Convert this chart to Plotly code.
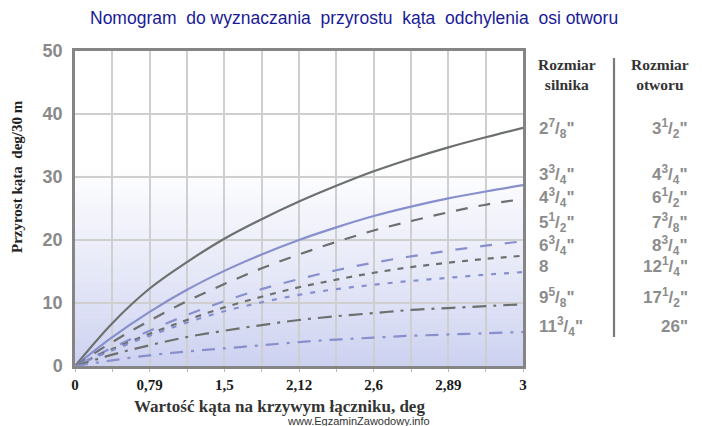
import plotly.graph_objects as go

# ---------------- data ----------------
X_POS = [0, 1, 2, 3, 4, 5, 6, 7, 8, 9, 10, 11, 12]          # grid positions along x axis
TICK_VALS = [0, 2, 4, 6, 8, 10, 12]
TICK_TEXT = ["0", "0,79", "1,5", "2,12", "2,6", "2,89", "3"]
Y_TICKS = [0, 10, 20, 30, 40, 50]

c_2_7_8 = [0, 6.8, 12.3, 16.5, 20.2, 23.3, 26.1, 28.6, 30.9, 32.9, 34.7, 36.3, 37.8]
c_3_3_4 = [0, 4.6, 8.6, 12.1, 15.1, 17.7, 20.0, 22.0, 23.8, 25.3, 26.6, 27.7, 28.7]
c_4_3_4 = [0, 3.8, 7.2, 10.3, 13.0, 15.5, 17.7, 19.7, 21.5, 23.0, 24.4, 25.6, 26.5]
c_5_1_2 = [0, 2.9, 5.6, 8.1, 10.3, 12.2, 13.8, 15.2, 16.4, 17.4, 18.3, 19.1, 19.8]
c_6_3_4 = [0, 2.7, 5.1, 7.3, 9.3, 11.0, 12.5, 13.7, 14.8, 15.7, 16.4, 17.0, 17.5]
c_8 = [0, 2.5, 4.8, 6.9, 8.7, 10.1, 11.3, 12.2, 12.9, 13.5, 14.0, 14.5, 14.9]
c_9_5_8 = [0, 1.8, 3.3, 4.6, 5.6, 6.5, 7.3, 7.9, 8.4, 8.9, 9.2, 9.5, 9.8]
c_11_3_4 = [0, 0.9, 1.7, 2.3, 2.8, 3.3, 3.8, 4.2, 4.5, 4.8, 5.0, 5.2, 5.4]

LABELS_SILNIK = ['2<sup>7</sup>/<sub>8</sub>"', '3<sup>3</sup>/<sub>4</sub>"', '4<sup>3</sup>/<sub>4</sub>"',
                 '5<sup>1</sup>/<sub>2</sub>"', '6<sup>3</sup>/<sub>4</sub>"', '8',
                 '9<sup>5</sup>/<sub>8</sub>"', '11<sup>3</sup>/<sub>4</sub>"']
LABELS_OTWOR = ['3<sup>1</sup>/<sub>2</sub>"', '4<sup>3</sup>/<sub>4</sub>"', '6<sup>1</sup>/<sub>2</sub>"',
                '7<sup>3</sup>/<sub>8</sub>"', '8<sup>3</sup>/<sub>4</sub>"', '12<sup>1</sup>/<sub>4</sub>"',
                '17<sup>1</sup>/<sub>2</sub>"', '26"']

# ---------------- layout helpers ----------------
W, H = 702, 426
L, R, T, B = 75, 523, 51, 366          # plot area in pixels


def px(xp):
    return (xp - L) / (R - L)


def py(yp):
    return (B - yp) / (B - T)


GRAY = "#6c706e"
BLUE = "#8790cc"

series = [
    (c_2_7_8, GRAY, "solid", 2.2),
    (c_3_3_4, BLUE, "solid", 2.2),
    (c_4_3_4, GRAY, "12px,11px", 2.2),
    (c_5_1_2, BLUE, "12px,13px", 2.2),
    (c_6_3_4, GRAY, "6px,7px", 2.2),
    (c_8, BLUE, "5px,8px", 2.2),
    (c_9_5_8, GRAY, "14px,7px,3px,7px", 2.2),
    (c_11_3_4, BLUE, "13px,8px,3px,8px", 2.2),
]

fig = go.Figure()
for vals, col, dash, w in series:
    fig.add_trace(go.Scatter(x=X_POS, y=vals, mode="lines",
                             line=dict(color=col, dash=dash, width=w, shape="spline", smoothing=1.0),
                             hoverinfo="skip", showlegend=False))

# gradient background (white top -> lavender bottom)
shapes = []
N = 60
bot = (204, 209, 240)
for i in range(N):
    f0 = i / N
    f1 = (i + 1) / N
    t = (f0 + f1) / 2
    k = min(1.0, t / 0.64)
    k = k ** 0.9
    c = tuple(int(round(bot[j] + (255 - bot[j]) * k)) for j in range(3))
    shapes.append(dict(type="rect", xref="x domain", yref="y domain", x0=0, x1=1, y0=f0, y1=f1 + 0.002,
                       fillcolor="rgb(%d,%d,%d)" % c, line=dict(width=0), layer="below"))

# separator line on the right
shapes.append(dict(type="line", xref="paper", yref="paper", x0=px(614), x1=px(614), y0=py(58), y1=py(337),
                   line=dict(color="#7a7a7a", width=2.2)))

annotations = []
annotations.append(dict(text="Nomogram  do wyznaczania  przyrostu  kąta  odchylenia  osi otworu", xref="paper", yref="paper",
                        x=px(354), y=py(18), showarrow=False, xanchor="center", yanchor="middle",
                        font=dict(family="Liberation Sans, Arial", size=17.5, color="#1a1a96")))
annotations.append(dict(text="Przyrost kąta  deg/30 m", xref="paper", yref="paper", x=px(17), y=py(176), textangle=-90,
                        showarrow=False, xanchor="center", yanchor="middle",
                        font=dict(family="Liberation Serif, Times New Roman", size=15, color="#222222", weight="bold")))
annotations.append(dict(text="Wartość kąta na krzywym łączniku, deg", xref="paper", yref="paper", x=px(279), y=py(406.5),
                        showarrow=False, xanchor="center", yanchor="middle",
                        font=dict(family="Liberation Serif, Times New Roman", size=17, color="#333333", weight="bold")))
annotations.append(dict(text="www.EgzaminZawodowy.info", xref="paper", yref="paper", x=px(358), y=py(420.5),
                        showarrow=False, xanchor="center", yanchor="middle",
                        font=dict(family="Liberation Sans, Arial", size=11, color="#333333")))
annotations.append(dict(text="Rozmiar<br>silnika", xref="paper", yref="paper", x=px(567), y=py(75),
                        showarrow=False, xanchor="center", yanchor="middle",
                        font=dict(family="Liberation Serif, Times New Roman", size=15.5, color="#333333", weight="bold")))
annotations.append(dict(text="Rozmiar<br>otworu", xref="paper", yref="paper", x=px(660), y=py(75),
                        showarrow=False, xanchor="center", yanchor="middle",
                        font=dict(family="Liberation Serif, Times New Roman", size=15.5, color="#333333", weight="bold")))

LABEL_PY = [128, 174, 197, 222, 245, 266, 297, 326]
lab_font = dict(family="Liberation Sans, Arial", size=17, color="#8c8c8c", weight="bold")
for yp, a, b in zip(LABEL_PY, LABELS_SILNIK, LABELS_OTWOR):
    annotations.append(dict(text=a, xref="paper", yref="paper", x=px(537), y=py(yp), showarrow=False,
                            xanchor="left", yanchor="middle", font=lab_font))
    annotations.append(dict(text=b, xref="paper", yref="paper", x=px(690), y=py(yp), showarrow=False,
                            xanchor="right", yanchor="middle", font=lab_font))

fig.update_layout(
    width=W, height=H,
    margin=dict(l=L, r=W - R, t=T, b=H - B, pad=0),
    paper_bgcolor="white", plot_bgcolor="white",
    shapes=shapes, annotations=annotations, showlegend=False,
)
fig.update_xaxes(range=[0, 12], tickmode="array", tickvals=TICK_VALS, ticktext=TICK_TEXT,
                 showgrid=True, gridcolor="#cfcfcf", gridwidth=1.5,
                 minor=dict(dtick=1, showgrid=True, gridcolor="#cfcfcf", gridwidth=1.5, ticks="outside", ticklen=3, tickcolor="#bbbbbb"),
                 ticks="outside", ticklen=3, tickcolor="#bbbbbb",
                 showline=True, mirror=True, linecolor="#858585", linewidth=2.5, zeroline=False,
                 tickfont=dict(family="Liberation Serif, Times New Roman", size=15, color="#1a1a1a", weight="bold"))
fig.update_yaxes(range=[0, 50], tickmode="array", tickvals=Y_TICKS,
                 showgrid=True, gridcolor="#cfcfcf", gridwidth=1.5,
                 ticks="", ticklabelstandoff=6,
                 showline=True, mirror=True, linecolor="#858585", linewidth=2.5, zeroline=False,
                 tickfont=dict(family="Liberation Sans, Arial", size=18, color="#8a8a8a", weight="bold"))

fig.write_html("out.html", config={"displayModeBar": False},
               post_script="document.body.style.margin='0px';document.body.style.overflow='hidden';")
